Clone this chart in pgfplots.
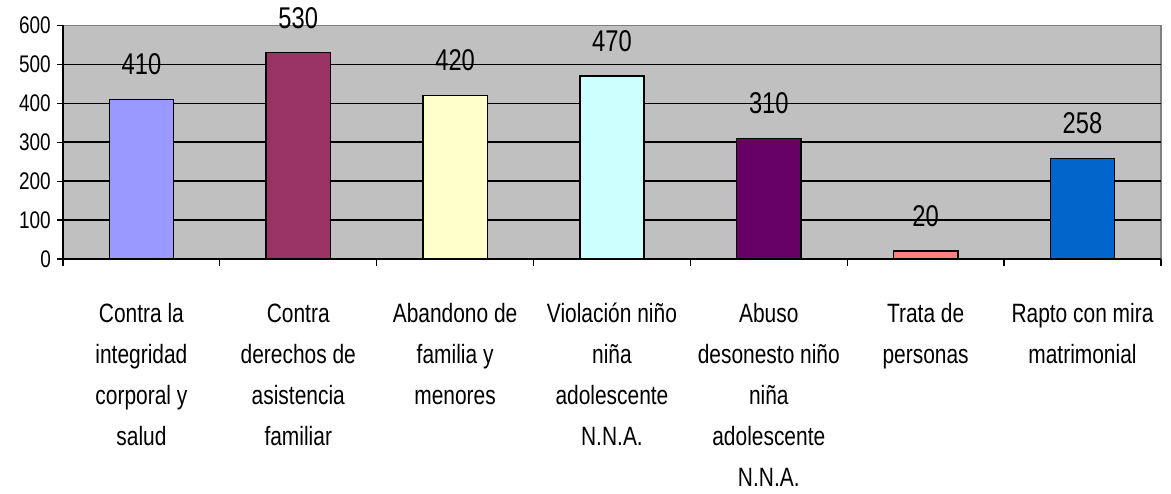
\documentclass[border=0pt]{standalone}
\usepackage{pgfplots}
\pgfplotsset{compat=1.18}
\usepackage{fontspec}
\setmainfont{Liberation Sans}[FakeStretch=0.79]
\definecolor{bgc}{HTML}{C0C0C0}
\definecolor{brd}{HTML}{808080}
\definecolor{c1}{HTML}{9999FF}
\definecolor{c2}{HTML}{993366}
\definecolor{c3}{HTML}{FFFFCC}
\definecolor{c4}{HTML}{CCFFFF}
\definecolor{c5}{HTML}{660066}
\definecolor{c6}{HTML}{FF8080}
\definecolor{c7}{HTML}{0066CC}
\newcommand{\catf}{\fontsize{26.5}{41}\selectfont}
\newcommand{\tickf}{\fontsize{24}{28}\selectfont}
\newcommand{\valf}{\fontsize{30}{34}\selectfont}
\newcommand{\fs}{\rule{0pt}{22pt}}
\begin{document}
\begin{tikzpicture}
\path[use as bounding box] (-63pt,-235pt) rectangle (1108pt,259pt);
\begin{axis}[
  scale only axis, width=1098pt, height=233.5pt,
  xmin=-0.5, xmax=6.5, ymin=0, ymax=600,
  ybar, bar width=0.41, bar shift=0pt,
  /pgf/number format/assume math mode=true,
  axis background/.style={fill=bgc, draw=brd, line width=1.5pt},
  axis x line*=bottom, axis y line*=left,
  axis line style={-, black, line width=1.5pt},
  tick align=outside,
  ytick={0,100,...,600},
  ytick style={black, line width=1.3pt},
  major tick length=6pt,
  yticklabel style={font=\tickf, inner sep=0pt, xshift=-6pt},
  extra y ticks={100,200,300,400,500},
  extra y tick labels={},
  extra y tick style={ymajorgrids=true, major tick length=0pt},
  major grid style={black, line width=1.6pt},
  xtick={0,...,6},
  xtick style={draw=none},
  xticklabels={
    {\fs Contra la\\integridad\\corporal y\\salud},
    {\fs Contra\\derechos de\\asistencia\\familiar},
    {\fs Abandono de\\familia y\\menores},
    {\fs Violación niño\\niña\\adolescente\\N.N.A.},
    {\fs Abuso\\desonesto niño\\niña\\adolescente\\N.N.A.},
    {\fs Trata de\\personas},
    {\fs Rapto con mira\\matrimonial}},
  xticklabel style={font=\catf, align=center, anchor=north, inner sep=0pt, yshift=-35pt},
  extra x ticks={-0.5,0.5,1.5,2.5,3.5,4.5,5.5,6.5},
  extra x tick labels={},
  extra x tick style={xtick style={draw=black, line width=1.3pt}, major tick length=7pt},
  every axis plot/.append style={draw=black, line width=1.5pt},
  nodes near coords,
  nodes near coords style={font=\valf, anchor=center, yshift=35pt, text=black},
]
\addplot[fill=c1] coordinates {(0,410)};
\addplot[fill=c2] coordinates {(1,530)};
\addplot[fill=c3] coordinates {(2,420)};
\addplot[fill=c4] coordinates {(3,470)};
\addplot[fill=c5] coordinates {(4,310)};
\addplot[fill=c6] coordinates {(5,20)};
\addplot[fill=c7] coordinates {(6,258)};
\end{axis}
\end{tikzpicture}
\end{document}
